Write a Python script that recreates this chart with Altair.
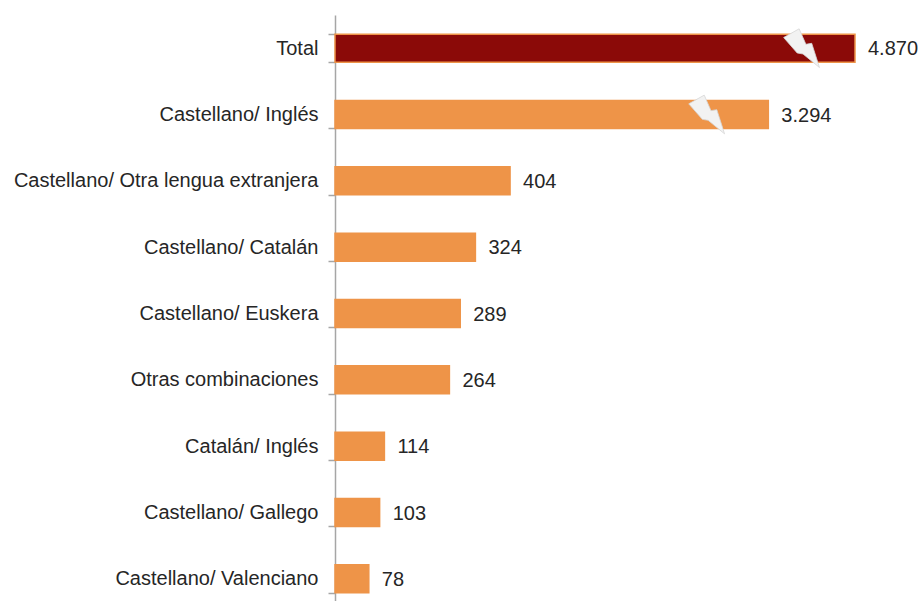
import altair as alt
import pandas as pd

categories = ["Total", "Castellano/ Inglés", "Castellano/ Otra lengua extranjera",
              "Castellano/ Catalán", "Castellano/ Euskera", "Otras combinaciones",
              "Catalán/ Inglés", "Castellano/ Gallego", "Castellano/ Valenciano"]
values = [4870, 3294, 404, 324, 289, 264, 114, 103, 78]
value_labels = ["4.870", "3.294", "404", "324", "289", "264", "114", "103", "78"]
# drawn length on the broken axis (the two longest bars are cut)
bar_lengths = [1200, 1000, 404, 324, 289, 264, 114, 103, 78]
kinds = ["total", "parte", "parte", "parte", "parte", "parte", "parte", "parte", "parte"]
# where the axis-break bolts sit on the two cut bars
break_categories = ["Total", "Castellano/ Inglés"]
break_positions = [1080, 861]

df = pd.DataFrame({"cat": categories, "value": values, "label": value_labels,
                   "len": bar_lengths, "kind": kinds})
brk = pd.DataFrame({"cat": break_categories, "pos": break_positions})

FONT = "Liberation Sans"
ORANGE = "#EE9448"
DARK = "#8B0A08"

y = alt.Y("cat:N", sort=categories, title=None,
          scale=alt.Scale(paddingInner=0.58, paddingOuter=0.29),
          axis=alt.Axis(labelFont=FONT, labelFontSize=20, labelColor="#262626",
                        labelPadding=10, tickSize=7, tickColor="#A6A6A6",
                        domainColor="#A6A6A6", domainWidth=1.5, tickWidth=1.5,
                        tickBand="extent", labelLimit=400))
xscale = alt.Scale(domain=[0, 1350], nice=False, zero=True)

bars = alt.Chart(df).mark_bar(size=28, strokeWidth=1.5).encode(
    y=y,
    x=alt.X("len:Q", scale=xscale, axis=None),
    color=alt.Color("kind:N", scale=alt.Scale(domain=["total", "parte"], range=[DARK, ORANGE]), legend=None),
    stroke=alt.value(ORANGE),
)

text = alt.Chart(df).mark_text(align="left", baseline="middle", dx=13, dy=1,
                               font=FONT, fontSize=20, color="#262626").encode(
    y=alt.Y("cat:N", sort=categories),
    x=alt.X("len:Q", scale=xscale),
    text="label:N",
)

bolt_path = ("M -1,-0.55 L -0.2,-1 L 0.15,-0.2 L 0.45,-0.25 "
             "L 0.85,1 L 0.0,0.3 L -0.3,0.25 Z")
bolts = alt.Chart(brk).mark_point(shape=bolt_path, size=1500, filled=True,
                                  fill="#F2F2F2", stroke="#D6D6D6", strokeWidth=0.8,
                                  opacity=1).encode(
    y=alt.Y("cat:N", sort=categories),
    x=alt.X("pos:Q", scale=xscale),
)

chart = alt.layer(bars, text, bolts).properties(
    width=585, height=597,
    autosize=alt.AutoSizeParams(type="none"),
    padding={"left": 335, "top": 15, "right": 4, "bottom": 0},
    background="white",
).configure_view(stroke=None)

chart.save("out.html", embed_options={"renderer": "svg", "actions": False})
